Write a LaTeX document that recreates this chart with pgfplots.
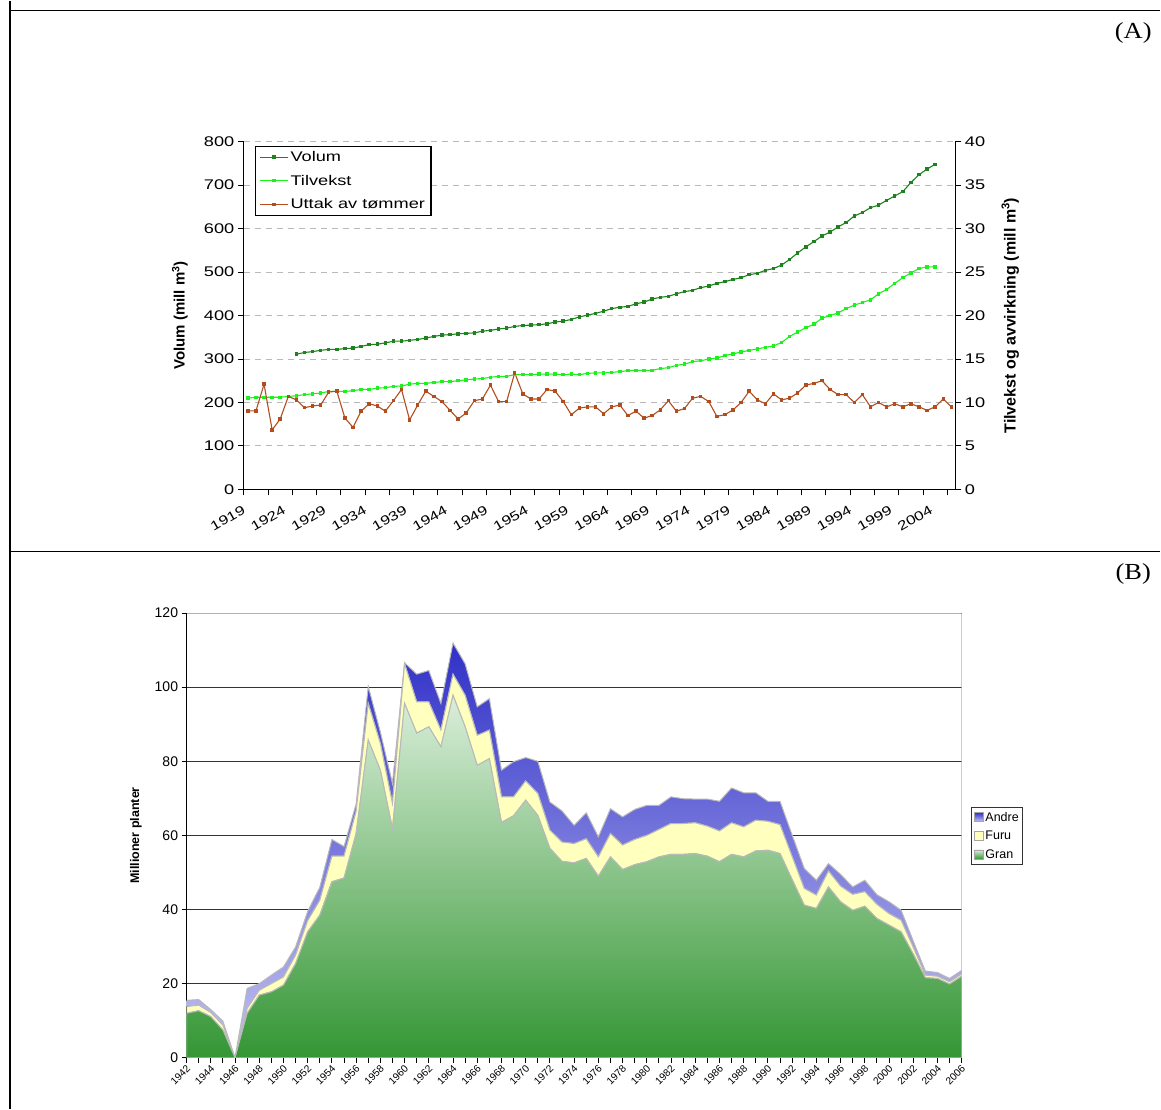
\documentclass[border=0pt]{standalone}
\usepackage{pgfplots}
\usepackage{pgfplotstable}
\pgfplotsset{compat=1.18}
\usepackage{fontspec}
\setmainfont{Liberation Sans}
\setsansfont{Liberation Sans}
\newfontfamily\timesf{Liberation Serif}
\usepackage{graphicx}

\definecolor{volc}{RGB}{30,130,30}
\definecolor{tilc}{RGB}{30,240,30}
\definecolor{utc}{RGB}{178,78,30}
\definecolor{granTop}{RGB}{218,238,218}
\definecolor{granBot}{RGB}{52,150,52}
\definecolor{furuc}{RGB}{255,255,190}
\definecolor{andreTop}{RGB}{48,48,200}
\definecolor{andreBot}{RGB}{196,196,242}

\pgfplotstableread{
year vol
1925 311
1926 315
1927 317
1928 320
1929 322
1930 322
1931 324
1932 325
1933 329
1934 333
1935 334
1936 337
1937 341
1938 341
1939 343
1940 345
1941 348
1942 352
1943 355
1944 356
1945 358
1946 359
1947 360
1948 364
1949 366
1950 369
1951 371
1952 375
1953 377
1954 378
1955 379
1956 381
1957 385
1958 387
1959 391
1960 397
1961 401
1962 405
1963 410
1964 416
1965 419
1966 421
1967 427
1968 431
1969 438
1970 442
1971 444
1972 450
1973 455
1974 458
1975 464
1976 468
1977 474
1978 478
1979 483
1980 487
1981 494
1982 497
1983 504
1984 508
1985 516
1986 529
1987 544
1988 558
1989 570
1990 583
1991 592
1992 604
1993 614
1994 629
1995 637
1996 648
1997 654
1998 665
1999 675
2000 685
2001 706
2002 724
2003 737
2004 748
}\volumtab

\pgfplotstableread{
year til
1919 10.5
1920 10.6
1921 10.6
1922 10.6
1923 10.6
1924 10.7
1925 10.77
1926 10.9
1927 11.0
1928 11.08
1929 11.27
1930 11.27
1931 11.27
1932 11.35
1933 11.5
1934 11.5
1935 11.65
1936 11.7
1937 11.85
1938 11.9
1939 12.1
1940 12.2
1941 12.2
1942 12.3
1943 12.4
1944 12.4
1945 12.5
1946 12.6
1947 12.7
1948 12.75
1949 12.9
1950 13.0
1951 13.0
1952 13.2
1953 13.2
1954 13.2
1955 13.27
1956 13.27
1957 13.27
1958 13.2
1959 13.27
1960 13.2
1961 13.35
1962 13.4
1963 13.4
1964 13.46
1965 13.55
1966 13.65
1967 13.7
1968 13.7
1969 13.7
1970 13.9
1971 14.0
1972 14.27
1973 14.4
1974 14.7
1975 14.8
1976 15.0
1977 15.1
1978 15.4
1979 15.6
1980 15.8
1981 16.0
1982 16.15
1983 16.35
1984 16.5
1985 16.9
1986 17.6
1987 18.1
1988 18.6
1989 19.0
1990 19.7
1991 20.0
1992 20.3
1993 20.8
1994 21.2
1995 21.5
1996 21.8
1997 22.5
1998 23.0
1999 23.7
2000 24.35
2001 24.9
2002 25.4
2003 25.6
2004 25.6
}\tilvtab

\pgfplotstableread{
year utt
1919 9.04
1920 9.04
1921 12.1
1922 6.85
1923 8.1
1924 10.7
1925 10.3
1926 9.4
1927 9.6
1928 9.7
1929 11.2
1930 11.3
1931 8.2
1932 7.15
1933 9.0
1934 9.85
1935 9.6
1936 9.0
1937 10.2
1938 11.5
1939 8.0
1940 9.7
1941 11.3
1942 10.7
1943 10.1
1944 9.1
1945 8.1
1946 8.8
1947 10.2
1948 10.4
1949 12.0
1950 10.1
1951 10.1
1952 13.4
1953 11.0
1954 10.4
1955 10.4
1956 11.5
1957 11.3
1958 10.1
1959 8.6
1960 9.35
1961 9.5
1962 9.5
1963 8.7
1964 9.5
1965 9.7
1966 8.5
1967 9.0
1968 8.2
1969 8.5
1970 9.15
1971 10.2
1972 9.0
1973 9.3
1974 10.5
1975 10.7
1976 10.1
1977 8.4
1978 8.6
1979 9.15
1980 10.0
1981 11.3
1982 10.3
1983 9.85
1984 11.0
1985 10.3
1986 10.5
1987 11.1
1988 12.0
1989 12.2
1990 12.5
1991 11.5
1992 10.9
1993 10.9
1994 10.0
1995 10.9
1996 9.5
1997 10.0
1998 9.5
1999 9.85
2000 9.5
2001 9.85
2002 9.5
2003 9.1
2004 9.5
2005 10.4
2006 9.5
}\uttaktab

\pgfplotstableread{
year gran furu andre
1942 12.0 1.8 1.7
1943 12.7 1.5 1.5
1944 11.1 1.1 0.8
1945 7.5 1.3 1.1
1946 0 0 0
1947 12.0 1.3 5.4
1948 16.9 1.3 1.8
1949 17.8 2.2 2.3
1950 19.6 2.2 2.7
1951 25.4 2.3 2.2
1952 34.0 3.0 2.5
1953 38.5 4.0 3.5
1954 47.5 6.9 4.5
1955 48.5 5.9 2.6
1956 60.5 6.0 2.0
1957 85.7 9.9 4.6
1958 77.6 7.2 3.1
1959 61.8 6.8 5.4
1960 95.6 10.7 0.3
1961 87.6 8.4 7.5
1962 89.3 6.7 8.5
1963 83.9 4.5 7.2
1964 97.8 5.7 8.4
1965 89.3 8.5 8.5
1966 78.9 8.1 7.7
1967 80.7 7.7 8.5
1968 63.5 6.9 7.2
1969 65.3 5.1 9.5
1970 69.5 5.2 6.3
1971 65.4 5.9 8.7
1972 56.5 4.9 7.6
1973 53.0 5.2 8.4
1974 52.6 5.2 4.9
1975 53.8 5.3 7.0
1976 49.0 5.2 5.4
1977 54.2 6.3 6.7
1978 50.8 6.6 7.6
1979 52.1 6.8 8.1
1980 52.9 7.1 8.1
1981 54.2 7.4 6.5
1982 54.9 8.3 7.2
1983 54.9 8.3 6.7
1984 55.1 8.3 6.4
1985 54.4 8.1 7.3
1986 52.9 8.3 8.0
1987 54.9 8.5 9.4
1988 54.2 8.1 9.2
1989 55.8 8.3 7.4
1990 56.0 7.8 5.4
1991 55.1 7.8 6.3
1992 48.1 6.2 5.8
1993 41.2 4.5 5.4
1994 40.3 3.6 4.0
1995 46.1 4.3 2.0
1996 42.1 4.2 3.2
1997 39.8 4.3 2.0
1998 40.9 3.9 3.1
1999 37.6 3.8 2.6
2000 35.8 3.1 3.2
2001 34.0 3.1 2.7
2002 28.0 1.8 1.7
2003 21.6 0.7 1.1
2004 21.4 0.6 1.0
2005 19.9 0.6 0.9
2006 22.0 0.6 1.0
}\plantetab

\newcommand{\fA}{\fontsize{14}{16}\selectfont\sffamily}
\newcommand{\sA}[1]{\scalebox{1.3}[1]{#1}}

\begin{document}
\begin{tikzpicture}[x=1pt,y=1pt]
\path (0,0) rectangle (1161,1109);
\draw[line width=1.5pt] (10,1109) -- (10,0);
\draw[line width=1.5pt] (9.25,1099) -- (1161,1099);
\draw[line width=1.5pt] (9.25,558) -- (1161,558);
\node at (1134,1077) {\fontsize{23}{25}\selectfont\timesf\scalebox{1.15}[1]{(A)}};
\node at (1134,535) {\fontsize{23}{25}\selectfont\timesf\scalebox{1.15}[1]{(B)}};

% ---------- Panel A, left axis ----------
\begin{axis}[
  at={(244pt,620pt)}, anchor=south west,
  width=712pt, height=348pt, scale only axis,
  xmin=1918.5, xmax=2006.5, ymin=0, ymax=800,
  axis x line*=bottom, axis y line*=left,
  axis line style={line width=1.3pt},
  /pgf/number format/assume math mode=true,
  ytick={0,100,...,800},
  yticklabel={\sA{\pgfmathprintnumber{\tick}}},
  yticklabel style={font=\fA},
  xtick={1919,1924,...,2004},
  xticklabel={\sA{\pgfmathprintnumber[1000 sep={}]{\tick}}},
  xticklabel style={font=\fontsize{13}{15}\selectfont\sffamily, rotate=30, anchor=north east, xshift=-9pt, yshift=-4pt, inner sep=1pt},
  major x tick style={draw=none},
  minor xtick={1918.5,1921.5,...,2006.5},
  minor x tick style={black, line width=1pt},
  minor tick length=6pt,
  tick align=outside, major tick length=6pt,
  major y tick style={black, line width=1pt},
  ymajorgrids, grid style={dashed, dash pattern=on 6pt off 5pt, gray!55, line width=1pt},
  ylabel={\textbf{Volum (mill m\textsuperscript{3})}},
  ylabel style={font=\fontsize{15}{17}\selectfont\sffamily, at={(rel axis cs:-0.09,0.5)}, anchor=center},
]
\addplot[volc, line width=1.1pt, mark=square*, mark size=1.2pt] table[x=year,y=vol]{\volumtab};
\end{axis}

% ---------- Panel A, right axis ----------
\begin{axis}[
  at={(244pt,620pt)}, anchor=south west,
  width=712pt, height=348pt, scale only axis,
  xmin=1918.5, xmax=2006.5, ymin=0, ymax=40,
  axis x line=none, axis y line*=right,
  axis line style={line width=1.3pt},
  /pgf/number format/assume math mode=true,
  ytick={0,5,...,40},
  yticklabel={\sA{\pgfmathprintnumber{\tick}}},
  yticklabel style={font=\fA},
  tick align=outside, major tick length=6pt,
  major y tick style={black, line width=1pt},
  ylabel={\textbf{Tilvekst og avvirkning (mill m\textsuperscript{3})}},
  ylabel style={font=\fontsize{16}{18}\selectfont\sffamily, at={(rel axis cs:1.077,0.5)}, anchor=center},
  legend style={at={(rel axis cs:0.0155,0.9885)}, anchor=north west, draw=black, line width=1.2pt,
    font=\fA, row sep=8pt, inner xsep=4pt, inner ysep=3pt, cells={anchor=west}},
  legend image code/.code={\draw[mark repeat=2,mark phase=2,#1] plot coordinates {(0pt,0pt) (14pt,0pt) (28pt,0pt)};},
]
\addlegendimage{volc, line width=1.1pt, mark=square*, mark size=1.2pt}
\addlegendentry{\sA{Volum}}
\addplot[tilc, line width=1.1pt, mark=square*, mark size=1.2pt] table[x=year,y=til]{\tilvtab};
\addlegendentry{\sA{Tilvekst}}
\addplot[utc, line width=1.1pt, mark=square*, mark size=1.2pt] table[x=year,y=utt]{\uttaktab};
\addlegendentry{\sA{Uttak av tømmer}}
\end{axis}

% ---------- Panel B ----------
\begin{axis}[
  at={(186.7pt,51.3pt)}, anchor=south west,
  width=775.6pt, height=445pt, scale only axis,
  xmin=1942, xmax=2006, ymin=0, ymax=120,
  stack plots=y,
  axis x line*=bottom, axis y line*=left,
  axis line style={line width=1.2pt},
  ytick={0,20,...,120},
  yticklabel style={font=\fontsize{14}{16}\selectfont\sffamily},
  /pgf/number format/assume math mode=true,
  xtick={1942,1944,...,2006},
  minor xtick={1943,1945,...,2005},
  xticklabel={\pgfmathprintnumber[1000 sep={}]{\tick}},
  xticklabel style={font=\fontsize{10.2}{11}\selectfont\sffamily, rotate=45, anchor=north east, xshift=-1pt, inner sep=0.8pt},
  tick align=outside, major tick length=5pt, minor tick length=5pt,
  tick style={black, line width=1pt},
  ymajorgrids, grid style={black!80, line width=1pt},
  ylabel={\textbf{Millioner planter}},
  ylabel style={font=\fontsize{12.5}{14}\selectfont\sffamily, at={(rel axis cs:-0.0654,0.5)}, anchor=center},
  legend style={at={(rel axis cs:1.0125,0.5634)}, anchor=north west, draw=black!80, line width=1pt,
    font=\fontsize{12.5}{14}\selectfont\sffamily, row sep=4.5pt, inner xsep=2pt, inner ysep=2.5pt, cells={anchor=west}},
  legend image code/.code={\path[#1, draw=gray!70, line width=0.6pt] (0pt,-4pt) rectangle (9pt,5pt);},
  reverse legend,
]
\addplot[draw=gray!55, line width=1pt, top color=granTop, bottom color=granBot] table[x=year,y=gran]{\plantetab} \closedcycle;
\addlegendentry{Gran}
\addplot[draw=gray!55, line width=1pt, fill=furuc] table[x=year,y=furu]{\plantetab} \closedcycle;
\addlegendentry{Furu}
\addplot[draw=gray!55, line width=1pt, top color=andreTop, bottom color=andreBot] table[x=year,y=andre]{\plantetab} \closedcycle;
\addlegendentry{Andre}
\draw[gray!60, line width=1.2pt] (rel axis cs:0,1) -- (rel axis cs:1,1) -- (rel axis cs:1,0);
\draw[black, line width=1.2pt] (rel axis cs:0,1) -- (rel axis cs:0,0) -- (rel axis cs:1,0);
\end{axis}
\end{tikzpicture}
\end{document}
